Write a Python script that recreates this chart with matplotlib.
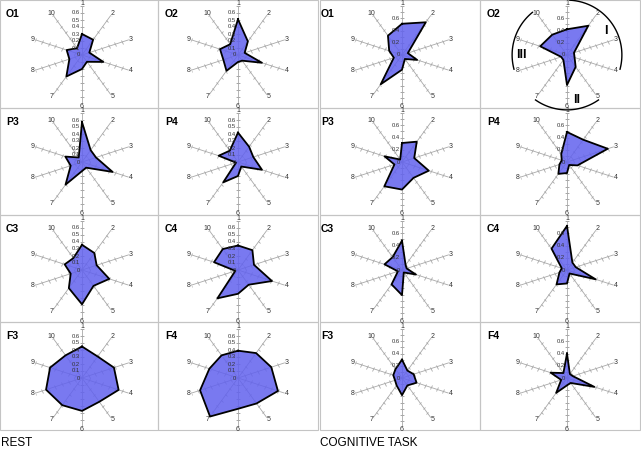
import numpy as np
import matplotlib
matplotlib.use("Agg")
import matplotlib.pyplot as plt
from matplotlib.markers import MarkerStyle
from matplotlib.transforms import Affine2D
from matplotlib.patches import Rectangle

plt.rcParams['font.family'] = ['Liberation Sans', 'DejaVu Sans']

# spoke names, clockwise from the top
spokes = ["1", "2", "3", "4", "5", "6", "7", "8", "9", "10"]

# REST condition
rest_O1 = [0.30, 0.27, 0.11, 0.32, 0.12, 0.20, 0.38, 0.19, 0.23, 0.12]
rest_O2 = [0.51, 0.24, 0.10, 0.36, 0.10, 0.10, 0.28, 0.22, 0.27, 0.19]
rest_P3 = [0.57, 0.21, 0.21, 0.46, 0.10, 0.13, 0.40, 0.17, 0.25, 0.08]
rest_P4 = [0.42, 0.27, 0.23, 0.36, 0.08, 0.20, 0.36, 0.03, 0.29, 0.20]
rest_C3 = [0.36, 0.30, 0.22, 0.41, 0.28, 0.49, 0.32, 0.17, 0.26, 0.21]
rest_C4 = [0.35, 0.35, 0.24, 0.51, 0.26, 0.34, 0.50, 0.04, 0.36, 0.37]
rest_F3 = [0.45, 0.38, 0.48, 0.55, 0.42, 0.47, 0.48, 0.54, 0.48, 0.40]
rest_F4 = [0.39, 0.44, 0.50, 0.60, 0.45, 0.44, 0.68, 0.57, 0.43, 0.40]

# COGNITIVE TASK condition
cog_O1 = [0.51, 0.66, 0.10, 0.26, 0.08, 0.24, 0.59, 0.14, 0.22, 0.39]
cog_O2 = [0.42, 0.59, 0.12, 0.13, 0.24, 0.49, 0.10, 0.10, 0.46, 0.41]
cog_P3 = [0.31, 0.41, 0.21, 0.46, 0.32, 0.45, 0.49, 0.13, 0.30, 0.05]
cog_P4 = [0.49, 0.45, 0.70, 0.18, 0.06, 0.18, 0.24, 0.13, 0.09, 0.16]
cog_C3 = [0.48, 0.10, 0.08, 0.24, 0.05, 0.41, 0.29, 0.07, 0.30, 0.26]
cog_C4 = [0.72, 0.15, 0.15, 0.49, 0.07, 0.22, 0.29, 0.13, 0.09, 0.43]
cog_F3 = [0.30, 0.15, 0.20, 0.25, 0.15, 0.28, 0.15, 0.12, 0.15, 0.18]
cog_F4 = [0.40, 0.08, 0.10, 0.47, 0.10, 0.12, 0.30, 0.10, 0.28, 0.10]

rest_labels = ["0", "0.1", "0.2", "0.3", "0.4", "0.5", "0.6"]
cog_labels = ["0", "0.2", "0.4", "0.6"]

# sector arcs on the O2 task panel (degrees clockwise from the top)
sector_names = ["I", "II", "III"]
sector_start = [3, 145, 255]
sector_end = [105, 215, 321]
sector_text = [58, 168, 270]

W, H = 641, 455
fig = plt.figure(figsize=(W / 100, H / 100), dpi=100)

FILL = '#6262ee'
SPOKE = '#a8a8a8'

col_x0 = [0, 158, 320, 480]
col_x1 = [158, 318, 480, 640]
col_cx = [82, 238, 402, 567]
col_tx = [6, 165, 321, 487]
row_y0 = [0, 108, 215, 322]
row_y1 = [108, 215, 322, 430]
row_cy = [55, 162, 270, 378]


def fig_xy(px, py):
    return px / W, 1 - py / H


def radar(col, row, name, vals, rmax, labels, sectors=False):
    R = 49
    cx, cy = col_cx[col], row_cy[row]
    x0, y0 = fig_xy(cx - R, cy + R)
    ax = fig.add_axes([x0, y0, 2 * R / W, 2 * R / H], projection='polar')
    ax.set_theta_zero_location('N')
    ax.set_theta_direction(-1)
    ax.set_ylim(0, rmax)
    ax.grid(False)
    ax.set_xticks([])
    ax.set_yticks([])
    ax.spines['polar'].set_visible(False)
    ax.patch.set_alpha(0)

    n = len(spokes)
    th = np.arange(n) * 2 * np.pi / n
    steps = np.arange(1, int(round(rmax * 10)) + 1) / 10
    for i, t in enumerate(th):
        ax.plot([t, t], [0, rmax], color=SPOKE, lw=0.6, zorder=1)
        mk = MarkerStyle('_', transform=Affine2D().rotate_deg(-np.degrees(t)))
        ax.plot([t] * len(steps), steps, ls='none', marker=mk, ms=2.5,
                mec=SPOKE, mew=0.6, zorder=1)
        ax.text(t, rmax * 1.05, spokes[i], ha='center', va='center',
                fontsize=5, color='#333333')

    tt = np.append(th, th[0])
    vv = np.append(vals, vals[0])
    ax.fill(tt, vv, color=FILL, alpha=0.85, lw=0, zorder=2)
    ax.plot(tt, vv, color='black', lw=1.3, zorder=3)

    for lb in labels:
        ax.annotate(lb, xy=(0, float(lb)), xytext=(-1.5, 0),
                    textcoords='offset points', ha='right', va='center',
                    fontsize=4.2, color='#333333', zorder=4)

    fig.text(*fig_xy(col_tx[col], row_y0[row] + 14), name, fontsize=7.5,
             fontweight='bold', ha='left', va='center')

    if sectors:
        for s, a, b, m in zip(sector_names, sector_start, sector_end, sector_text):
            arc = np.radians(np.linspace(a, b, 80))
            ax.plot(arc, [rmax * 1.12] * len(arc), color='black', lw=1.0,
                    clip_on=False)
            ax.text(np.radians(m), rmax * 0.93, s, fontsize=9,
                    fontweight='bold', ha='center', va='center')


rest_panels = [("O1", rest_O1), ("O2", rest_O2), ("P3", rest_P3), ("P4", rest_P4),
               ("C3", rest_C3), ("C4", rest_C4), ("F3", rest_F3), ("F4", rest_F4)]
cog_panels = [("O1", cog_O1), ("O2", cog_O2), ("P3", cog_P3), ("P4", cog_P4),
              ("C3", cog_C3), ("C4", cog_C4), ("F3", cog_F3), ("F4", cog_F4)]

for k, (nm, v) in enumerate(rest_panels):
    radar(k % 2, k // 2, nm, v, 0.7, rest_labels)
for k, (nm, v) in enumerate(cog_panels):
    radar(2 + k % 2, k // 2, nm, v, 0.8, cog_labels, sectors=(k == 1))

# panel frames
for c in range(4):
    for r in range(4):
        x0, y0 = fig_xy(col_x0[c], row_y1[r])
        fig.add_artist(Rectangle((x0, y0), (col_x1[c] - col_x0[c]) / W,
                                 (row_y1[r] - row_y0[r]) / H,
                                 transform=fig.transFigure, fill=False,
                                 ec='#c4c4c4', lw=0.8, zorder=0))

fig.text(*fig_xy(1, 443), "REST", fontsize=8.5, ha='left', va='center')
fig.text(*fig_xy(320, 443), "COGNITIVE TASK", fontsize=8.5, ha='left', va='center')

fig.savefig("out.png", dpi=100)
